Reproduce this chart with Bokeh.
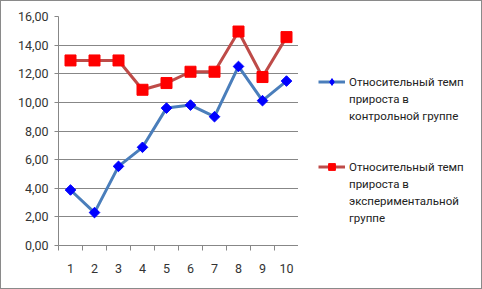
import math
from bokeh.plotting import figure
from bokeh.layouts import row
from bokeh.models import FixedTicker, Legend, LegendItem, Range1d
from bokeh.embed import file_html
from bokeh.resources import INLINE

x_vals = [1, 2, 3, 4, 5, 6, 7, 8, 9, 10]
x_labels = ["1", "2", "3", "4", "5", "6", "7", "8", "9", "10"]
control = [3.88, 2.30, 5.53, 6.86, 9.60, 9.81, 9.00, 12.51, 10.12, 11.49]
experimental = [12.93, 12.93, 12.93, 10.88, 11.35, 12.14, 12.14, 14.95, 11.77, 14.56]
y_ticks = [0, 2, 4, 6, 8, 10, 12, 14, 16]
y_labels = ["0,00", "2,00", "4,00", "6,00", "8,00", "10,00", "12,00", "14,00", "16,00"]
label_control = ["Относительный темп", "прироста в", "контрольной группе"]
label_exp = ["Относительный темп", "прироста в", "экспериментальной", "группе"]

FONT = "Roboto"
GRAY = "#878787"
BLUE_LINE, BLUE_MARK = "#4A7EBB", "#0000FF"
RED_LINE, RED_MARK = "#BE4B48", "#FF0000"

p = figure(width=297, height=287, output_backend="svg", toolbar_location=None,
           x_range=Range1d(0.5, 10.5), y_range=Range1d(0, 16),
           min_border_left=57, min_border_right=0, min_border_top=15, min_border_bottom=43)
p.outline_line_color = None
p.background_fill_color = "white"
p.border_fill_color = "white"

p.xgrid.visible = False
p.ygrid.grid_line_color = GRAY
p.ygrid.grid_line_width = 1
p.ygrid.ticker = FixedTicker(ticks=y_ticks)

p.yaxis.ticker = FixedTicker(ticks=y_ticks)
p.yaxis.major_label_overrides = {t: l for t, l in zip(y_ticks, y_labels)}
p.yaxis.axis_line_color = GRAY
p.yaxis.major_tick_line_color = GRAY
p.yaxis.major_tick_in = 0
p.yaxis.major_tick_out = 4
p.yaxis.minor_tick_line_color = None
p.yaxis.major_label_standoff = 6
p.yaxis.major_label_text_font = FONT
p.yaxis.major_label_text_font_size = "12.5px"
p.yaxis.major_label_text_color = "#333333"

p.xaxis.ticker = FixedTicker(ticks=x_vals, minor_ticks=[i + 0.5 for i in range(0, 11)])
p.xaxis.major_label_overrides = {t: l for t, l in zip(x_vals, x_labels)}
p.xaxis.axis_line_color = GRAY
p.xaxis.major_tick_line_color = None
p.xaxis.major_tick_in = 0
p.xaxis.major_tick_out = 0
p.xaxis.minor_tick_line_color = GRAY
p.xaxis.minor_tick_in = 0
p.xaxis.minor_tick_out = 5
p.xaxis.major_label_standoff = 13
p.xaxis.major_label_text_font = FONT
p.xaxis.major_label_text_font_size = "12.5px"
p.xaxis.major_label_text_color = "#333333"

p.line(x_vals, control, line_color=BLUE_LINE, line_width=3)
p.scatter(x_vals, control, marker="square", size=7.5, angle=math.pi / 4,
          fill_color=BLUE_MARK, line_color=BLUE_MARK)
p.line(x_vals, experimental, line_color=RED_LINE, line_width=3)
p.scatter(x_vals, experimental, marker="square", size=11, fill_color=RED_MARK, line_color=RED_MARK)

# legend panel (separate figure so the legend is not clipped by the plot frame)
pl = figure(width=183, height=287, output_backend="svg", toolbar_location=None,
            x_axis_type=None, y_axis_type=None, min_border=0,
            x_range=Range1d(0.5, 10.5), y_range=Range1d(0, 16))
pl.outline_line_color = None
pl.grid.visible = False
pl.border_fill_color = "white"
l1 = pl.line(x_vals, control, line_color=BLUE_LINE, line_width=3, visible=False)
m1 = pl.scatter(x_vals, control, marker="diamond", size=9,
                fill_color=BLUE_MARK, line_color=BLUE_MARK, visible=False)
l2 = pl.line(x_vals, experimental, line_color=RED_LINE, line_width=3, visible=False)
m2 = pl.scatter(x_vals, experimental, marker="square", size=11,
                fill_color=RED_MARK, line_color=RED_MARK, visible=False)

items = [LegendItem(label=label_control[0], renderers=[l1, m1])]
items += [LegendItem(label=s, renderers=[]) for s in label_control[1:]]
items += [LegendItem(label=" ", renderers=[]), LegendItem(label=" ", renderers=[])]
items += [LegendItem(label=label_exp[0], renderers=[l2, m2])]
items += [LegendItem(label=s, renderers=[]) for s in label_exp[1:]]

legend = Legend(items=items, location=(20, 19), margin=0, padding=0, spacing=0,
                glyph_width=27, glyph_height=17, label_height=17,
                label_standoff=4, border_line_color=None, background_fill_alpha=0,
                label_text_font=FONT, label_text_font_size="11.5px", label_text_color="#222222")
pl.add_layout(legend, "center")

layout = row(p, pl, spacing=0, styles={"border": "1px solid #8a8a8a"})

open("out.html", "w").write(file_html(layout, INLINE))
